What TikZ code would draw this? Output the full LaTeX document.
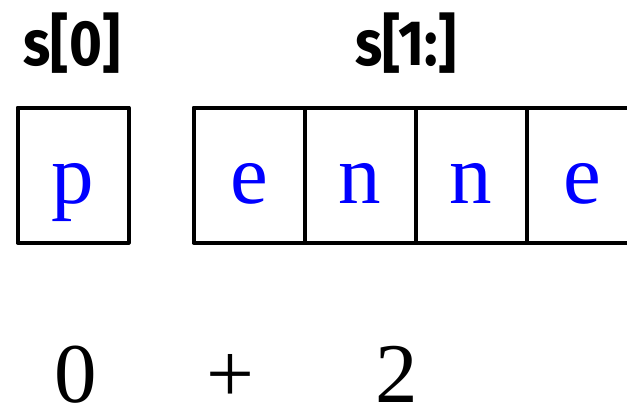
\documentclass[tikz,border=0pt]{standalone}
\usepackage{fontspec}
\setmainfont{Liberation Serif}
\setsansfont{Fira Sans}
\usetikzlibrary{positioning}

\newcommand{\narrow}[1]{\scalebox{0.88}[1]{#1}}

\begin{document}
\begin{tikzpicture}[
    x=1pt, y=1pt,
    cell/.style={draw=black, line width=4pt, line join=round, minimum width=111pt, minimum height=135pt,
                 inner sep=0pt, outer sep=0pt, text height=56pt, text depth=0pt,
                 text=blue, font=\rmfamily\fontsize{85}{90}\selectfont},
    slicelbl/.style={anchor=base, inner sep=0pt, font=\sffamily\bfseries\fontsize{64}{68}\selectfont},
    sumlbl/.style={anchor=base, inner sep=0pt, font=\rmfamily\fontsize{85}{90}\selectfont}
]
\useasboundingbox (0,0) rectangle (627,-407);
\clip (0,0) rectangle (627,-407);

% Nodes
\node[cell] (c0) at (73,-175) {p};
\node[cell] (c1) at (249,-175) {e};
\node[cell, right=0pt of c1] (c2) {n};
\node[cell, right=0pt of c2] (c3) {n};
\node[cell, right=0pt of c3] (c4) {e};

% Slice labels
\node[slicelbl] (head) at (72,-65) {\narrow{s[0]}};
\node[slicelbl] (tail) at (406,-65) {\narrow{s[1:]}};

% Sum below
\node[sumlbl] (zero) at (76,-402) {0};
\node[sumlbl] (plus) at (230,-402) {+};
\node[sumlbl] (two) at (397,-402) {2};

\end{tikzpicture}
\end{document}
